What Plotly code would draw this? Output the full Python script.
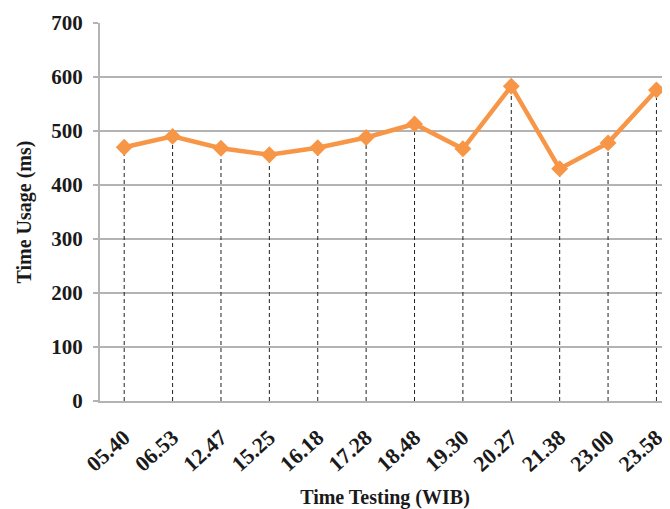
import plotly.graph_objects as go

categories = ["05.40", "06.53", "12.47", "15.25", "16.18", "17.28",
              "18.48", "19.30", "20.27", "21.38", "23.00", "23.58"]
time_usage = [470, 490, 468, 456, 469, 488, 513, 467, 583, 430, 478, 576]
y_ticks = [0, 100, 200, 300, 400, 500, 600, 700]

font_family = "Liberation Serif, Times New Roman, serif"
grey = "#b3b3b3"
text_color = "#1a1a1a"

# Drop lines built from data
drop_x, drop_y = [], []
for c, v in zip(categories, time_usage):
    drop_x += [c, c, None]
    drop_y += [0, v, None]

fig = go.Figure()
fig.add_trace(go.Scatter(
    x=drop_x, y=drop_y, mode="lines",
    line=dict(color="#222222", width=1, dash="4px,3px"),
    hoverinfo="skip", showlegend=False))
fig.add_trace(go.Scatter(
    x=categories, y=time_usage, mode="lines+markers",
    line=dict(color="#F79646", width=4.5),
    marker=dict(symbol="diamond", size=13, color="#F79646"),
    showlegend=False))

# page body has an 8px margin, so the figure is drawn 8px in from the top-left
fig.update_layout(
    width=662, height=501,
    margin=dict(l=92, r=0, t=15, b=108),
    paper_bgcolor="white", plot_bgcolor="white",
    font=dict(family=font_family, color=text_color, size=20),
    xaxis=dict(
        type="category", categoryorder="array", categoryarray=categories,
        range=[-0.5, 11.28], automargin=False,
        showgrid=False, showline=True, linecolor=grey, linewidth=2,
        ticks="", tickangle=-42, ticklabelstandoff=13,
        tickfont=dict(family=font_family, size=22, color=text_color, weight="bold"),
        title=dict(text="<b>Time Testing (WIB)</b>",
                   font=dict(family=font_family, size=20, color=text_color),
                   standoff=16),
    ),
    yaxis=dict(
        range=[0, 700], tickvals=y_ticks, automargin=False,
        showgrid=True, gridcolor=grey, gridwidth=1.5,
        showline=True, linecolor=grey, linewidth=2,
        ticks="outside", ticklen=5, tickcolor=grey, tickwidth=1.5,
        ticklabelstandoff=6,
        zeroline=False,
        tickfont=dict(family=font_family, size=21, color=text_color, weight="bold"),
        title=dict(text="<b>Time Usage (ms)</b>",
                   font=dict(family=font_family, size=20, color=text_color),
                   standoff=14),
    ),
)

fig.write_html("out.html")
